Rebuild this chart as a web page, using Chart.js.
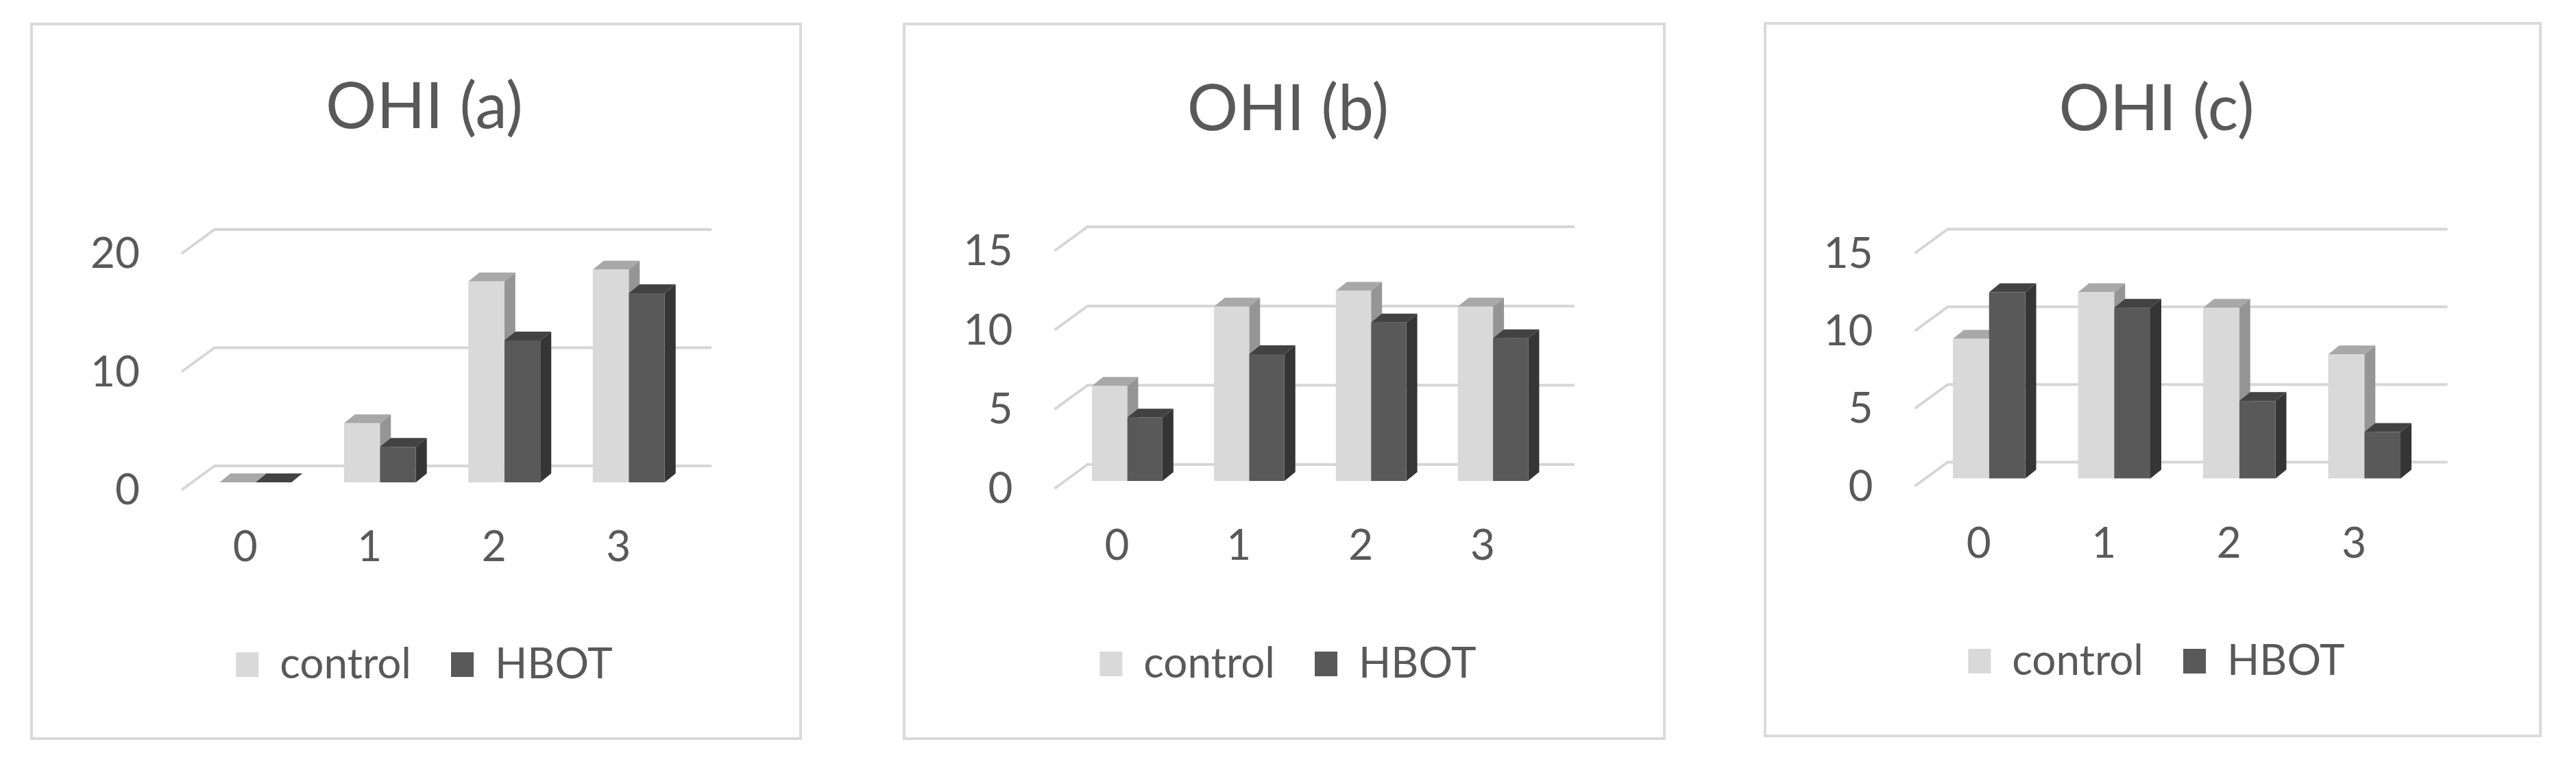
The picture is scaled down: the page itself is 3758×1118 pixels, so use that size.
<!DOCTYPE html>
<html>
<head>
<meta charset="utf-8">
<title>OHI</title>
<script src="https://cdn.jsdelivr.net/npm/chart.js@4.4.1/dist/chart.umd.min.js"></script>
<style>
    html, body { margin: 0; padding: 0; background: #ffffff; }
    body { width: 3758px; height: 1118px; position: relative; overflow: hidden; }
    canvas { position: absolute; }
    .frame { position: absolute; box-sizing: border-box; border: 4px solid #dadada; pointer-events: none; }
</style>
</head>
<body>
<script>
// ======================================================
// DATA
// ======================================================
const categories = ['0', '1', '2', '3'];
const seriesNames = ['control', 'HBOT'];
const titles = ['OHI (a)', 'OHI (b)', 'OHI (c)'];

const controlA = [0, 5, 17, 18];
const hbotA = [0, 3, 12, 16];

const controlB = [6, 11, 12, 11];
const hbotB = [4, 8, 10, 9];

const controlC = [9, 12, 11, 8];
const hbotC = [12, 11, 5, 3];

const yMaxes = [20, 15, 15];
const ySteps = [10, 5, 5];

// ======================================================
// LOOK
// ======================================================
const textColor = '#595959';
const frontColors = ['#d9d9d9', '#595959'];
const topColors = ['#a8a8a8', '#424242'];
const sideColors = ['#959595', '#353535'];
const gridColor = '#d6d6d6';

Chart.defaults.font.family = 'Lato';
Chart.defaults.color = textColor;

// panel boxes on the page and where the plot sits inside each one
const panels = [
    { x: 44, y: 33, w: 1126, h: 1047, area: { l: 238, r: 964, t: 326, b: 671 }, center: 575, titleMid: 124, legendMid: 937 },
    { x: 1317, y: 33, w: 1113, h: 1047, area: { l: 238.5, r: 950, t: 322, b: 669 }, center: 562, titleMid: 127, legendMid: 936 },
    { x: 2573, y: 32, w: 1135, h: 1044, area: { l: 237.5, r: 967.5, t: 326.5, b: 666.5 }, center: 573, titleMid: 128, legendMid: 933 }
];

// fake 3D: slanted floor/back-wall gridlines plus top and side faces on each bar
const depthPlugin = {
    id: 'depth3d',
    beforeDatasetsDraw(chart) {
        const { ctx, chartArea } = chart;
        const yScale = chart.scales.y;
        ctx.save();

        ctx.strokeStyle = gridColor;
        ctx.lineWidth = 4;
        yScale.ticks.forEach(t => {
            const py = yScale.getPixelForValue(t.value);
            ctx.beginPath();
            ctx.moveTo(chartArea.left - 17, py + 11);
            ctx.lineTo(chartArea.left + 31, py - 24);
            ctx.lineTo(chartArea.right + 30, py - 24);
            ctx.stroke();
        });

        const dx = 16, dy = 13;
        chart.data.datasets.forEach((ds, i) => {
            chart.getDatasetMeta(i).data.forEach(bar => {
                const { x, y, base, width } = bar.getProps(['x', 'y', 'base', 'width'], true);
                const l = x - width / 2, r = x + width / 2;
                if (base - y > 0.5) {
                    ctx.fillStyle = sideColors[i];
                    ctx.beginPath();
                    ctx.moveTo(r, y);
                    ctx.lineTo(r + dx, y - dy);
                    ctx.lineTo(r + dx, base - dy);
                    ctx.lineTo(r, base);
                    ctx.closePath();
                    ctx.fill();
                }
                ctx.fillStyle = topColors[i];
                ctx.beginPath();
                ctx.moveTo(l, y);
                ctx.lineTo(l + dx, y - dy);
                ctx.lineTo(r + dx, y - dy);
                ctx.lineTo(r, y);
                ctx.closePath();
                ctx.fill();
            });
        });
        ctx.restore();
    }
};

const createChart = (p, title, control, hbot, yMax, yStep) => {
    const canvas = document.createElement('canvas');
    canvas.width = p.w;
    canvas.height = p.h;
    canvas.style.left = p.x + 'px';
    canvas.style.top = p.y + 'px';
    canvas.style.width = p.w + 'px';
    canvas.style.height = p.h + 'px';
    document.body.appendChild(canvas);

    const frame = document.createElement('div');
    frame.className = 'frame';
    frame.style.left = p.x + 'px';
    frame.style.top = p.y + 'px';
    frame.style.width = p.w + 'px';
    frame.style.height = p.h + 'px';
    document.body.appendChild(frame);

    const titleSize = 93, labelSize = 62, legendPad = 58;
    // chart.js legend box height for one row: item + padding + 10
    const legendHeight = labelSize + legendPad + 10;
    // title and legend are centred between the outer paddings
    const shift = 2 * p.center - p.w;
    const padLeft = Math.max(shift, 0);
    const padRight = Math.max(-shift, 0);
    const padTop = p.titleMid - titleSize * 1.2 / 2;
    const titleGap = p.area.t - padTop - titleSize * 1.2;
    const legendTop = p.legendMid - legendPad - labelSize / 2;
    const padBottom = p.h - legendTop - legendHeight;

    return new Chart(canvas.getContext('2d'), {
        type: 'bar',
        data: {
            labels: categories,
            datasets: [
                { label: seriesNames[0], data: control, backgroundColor: frontColors[0], borderWidth: 0 },
                { label: seriesNames[1], data: hbot, backgroundColor: frontColors[1], borderWidth: 0 }
            ]
        },
        options: {
            responsive: false,
            animation: false,
            devicePixelRatio: 1,
            layout: { padding: { left: padLeft, right: padRight, top: padTop, bottom: padBottom } },
            datasets: { bar: { categoryPercentage: 0.578, barPercentage: 1 } },
            scales: {
                x: {
                    grid: { display: false, drawTicks: false },
                    border: { display: false },
                    ticks: { font: { size: labelSize }, padding: 58, labelOffset: -15, maxRotation: 0 },
                    afterFit: s => { s.height = legendTop - p.area.b; }
                },
                y: {
                    min: 0,
                    max: yMax,
                    grid: { display: false, drawTicks: false },
                    border: { display: false },
                    ticks: { stepSize: yStep, font: { size: labelSize }, padding: 78, labelOffset: 12 },
                    afterFit: s => { s.width = p.area.l - padLeft; }
                },
                // empty axis on the right, only there to hold the plot's right edge
                yr: {
                    type: 'linear',
                    position: 'right',
                    grid: { display: false, drawTicks: false },
                    border: { display: false },
                    ticks: { display: false },
                    afterFit: s => { s.width = p.w - padRight - p.area.r; }
                }
            },
            plugins: {
                title: {
                    display: true,
                    text: title,
                    color: textColor,
                    font: { size: titleSize, weight: 'normal' },
                    padding: { top: 0, bottom: titleGap }
                },
                legend: {
                    position: 'bottom',
                    labels: {
                        color: textColor,
                        font: { size: labelSize },
                        boxWidth: 33,
                        boxHeight: 36,
                        padding: legendPad
                    }
                },
                tooltip: { enabled: false }
            }
        },
        plugins: [depthPlugin]
    });
};

// ======================================================
// CHART INITIALIZATION
// ======================================================
createChart(panels[0], titles[0], controlA, hbotA, yMaxes[0], ySteps[0]);
createChart(panels[1], titles[1], controlB, hbotB, yMaxes[1], ySteps[1]);
createChart(panels[2], titles[2], controlC, hbotC, yMaxes[2], ySteps[2]);
</script>
</body>
</html>
